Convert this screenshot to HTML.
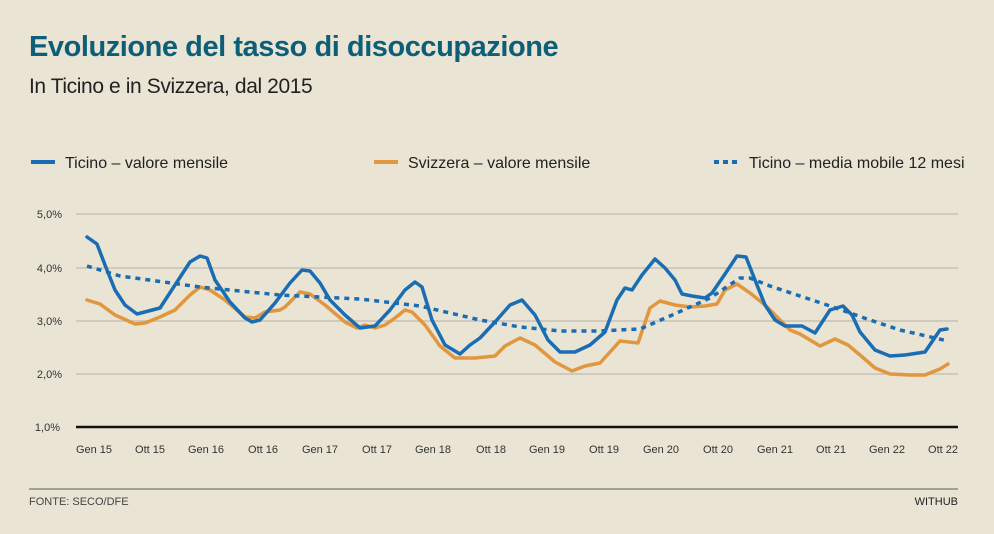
<!DOCTYPE html>
<html><head><meta charset="utf-8"><style>
html,body{margin:0;padding:0;background:#e9e4d4;}
body{width:994px;height:529px;overflow:hidden;font-family:"Liberation Sans",sans-serif;}
</style></head><body>
<svg width="994" height="529" viewBox="0 0 994 529" xmlns="http://www.w3.org/2000/svg" font-family="Liberation Sans, sans-serif">
<rect width="994" height="529" fill="#e9e4d4"/>
<text x="29" y="56" font-size="29" font-weight="bold" fill="#0d5f78" letter-spacing="-0.45">Evoluzione del tasso di disoccupazione</text>
<text x="29" y="93" font-size="21" fill="#222" letter-spacing="-0.4">In Ticino e in Svizzera, dal 2015</text>
<g font-size="16" fill="#222">
<line x1="31" y1="162" x2="55" y2="162" stroke="#1a6db3" stroke-width="4"/>
<text x="65" y="168">Ticino – valore mensile</text>
<line x1="374" y1="162" x2="398" y2="162" stroke="#e0973f" stroke-width="4"/>
<text x="408" y="168">Svizzera – valore mensile</text>
<line x1="714" y1="162" x2="738" y2="162" stroke="#1a6db3" stroke-width="4" stroke-dasharray="5,4"/>
<text x="749" y="168">Ticino – media mobile 12 mesi</text>
</g>
<g stroke="#c6c1b6" stroke-width="1.5">
<line x1="76" y1="214" x2="958" y2="214"/><line x1="76" y1="268" x2="958" y2="268"/>
<line x1="76" y1="321" x2="958" y2="321"/><line x1="76" y1="374" x2="958" y2="374"/>
</g>
<line x1="76" y1="427" x2="958" y2="427" stroke="#111" stroke-width="2.5"/>
<g font-size="11" fill="#333" text-anchor="end">
<text x="62" y="218">5,0%</text><text x="62" y="272">4,0%</text><text x="62" y="325">3,0%</text><text x="62" y="378">2,0%</text><text x="60" y="431">1,0%</text>
</g>
<g font-size="11" fill="#333" text-anchor="middle">
<text x="94" y="453">Gen 15</text><text x="150" y="453">Ott 15</text><text x="206" y="453">Gen 16</text><text x="263" y="453">Ott 16</text>
<text x="320" y="453">Gen 17</text><text x="377" y="453">Ott 17</text><text x="433" y="453">Gen 18</text><text x="491" y="453">Ott 18</text>
<text x="547" y="453">Gen 19</text><text x="604" y="453">Ott 19</text><text x="661" y="453">Gen 20</text><text x="718" y="453">Ott 20</text>
<text x="775" y="453">Gen 21</text><text x="831" y="453">Ott 21</text><text x="887" y="453">Gen 22</text><text x="943" y="453">Ott 22</text>
</g>
<g fill="none" stroke-linejoin="round" stroke-linecap="round" stroke-width="3.5">
<polyline stroke="#e0973f" points="87,300 100,304 115,315 135,324 145,323 160,317 175,310 190,295 200,287 210,290 225,300 245,317 255,318 265,312 280,310 285,307 300,292 310,294 325,305 345,322 357,328 365,325 375,328 385,325 395,318 405,310 412,312 425,325 440,346 455,358 475,358 495,356 505,346 520,338 535,345 555,362 572,371 585,366 600,363 610,352 620,341 638,343 650,308 660,301 675,305 690,307 705,306 717,304 725,290 737,284 750,293 765,305 780,320 790,330 800,334 820,346 835,339 848,345 860,355 875,368 890,374 910,375 925,375 940,369 948,364"/>
<polyline stroke="#1a6db3" stroke-dasharray="5,5" stroke-linecap="butt" points="87,266 120,276 200,287 280,295 360,299 420,306 480,320 520,327 560,331 600,331 640,329 670,316 710,298 740,278 750,278 770,286 830,306 870,320 900,330 948,341"/>
<polyline stroke="#1a6db3" points="87,237 97,244 105,265 115,290 125,305 137,314 160,308 175,285 190,262 200,256 207,258 215,280 230,302 245,318 252,322 260,320 275,303 290,283 302,270 310,271 320,283 330,300 345,315 360,328 375,326 390,310 405,290 415,282 422,287 432,320 445,345 460,354 470,345 480,338 495,322 510,305 522,300 535,315 548,340 560,352 575,352 590,345 605,332 617,300 625,288 632,290 642,275 655,259 665,268 675,280 682,294 692,296 705,298 712,293 725,274 737,256 746,257 755,280 765,305 775,320 785,326 802,326 815,333 830,310 843,306 852,315 860,332 875,350 890,356 905,355 925,352 940,330 947,329"/>
</g>
<line x1="29" y1="489" x2="958" y2="489" stroke="#777" stroke-width="1.2"/>
<text x="29" y="505" font-size="11" fill="#444">FONTE: SECO/DFE</text>
<text x="958" y="505" font-size="11" fill="#222" text-anchor="end">WITHUB</text>
</svg>
</body></html>
